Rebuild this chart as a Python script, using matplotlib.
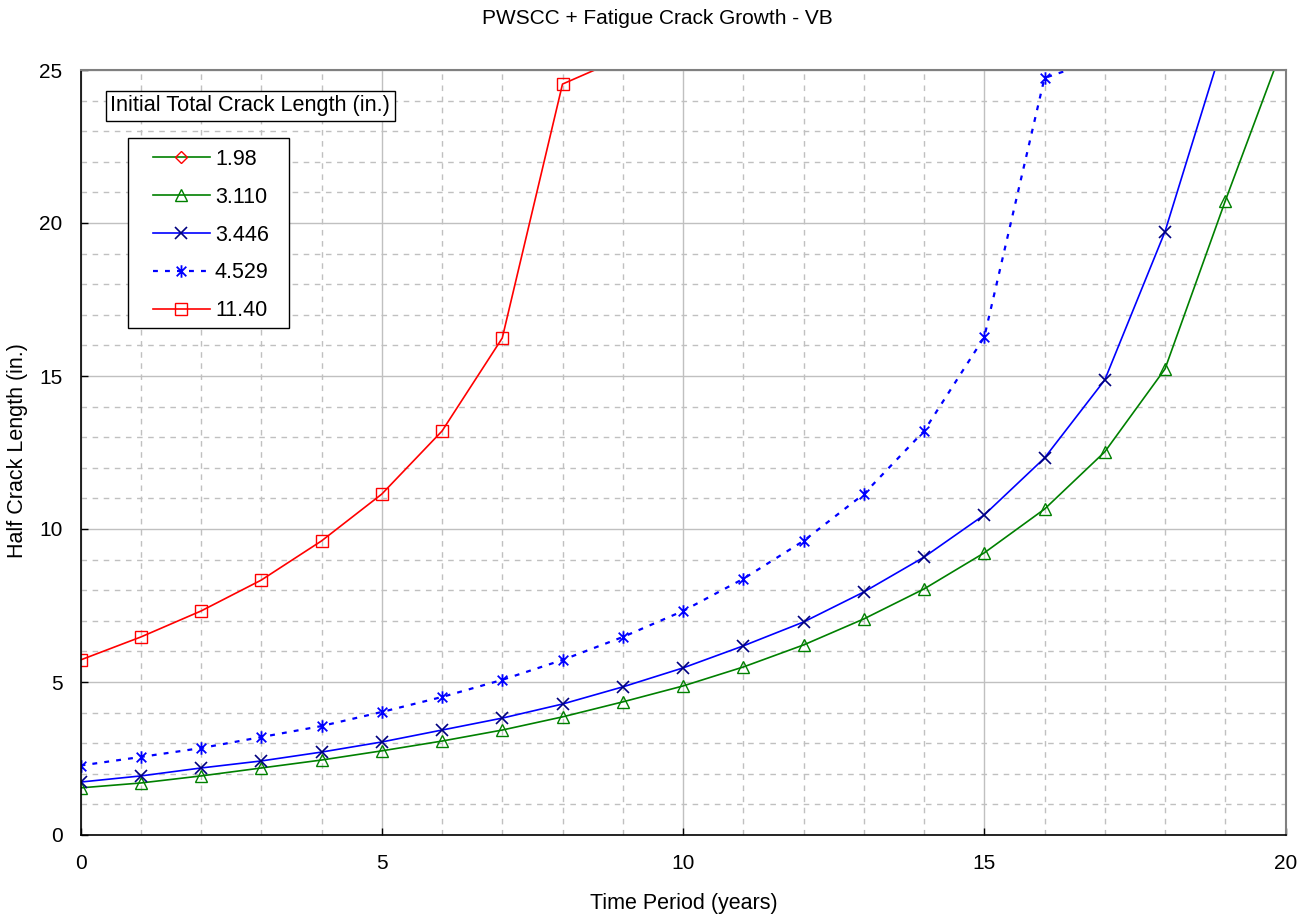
import numpy as np
import matplotlib.pyplot as plt
from matplotlib.path import Path
from matplotlib.patches import Rectangle

plt.rcParams['font.family'] = ['Liberation Sans', 'DejaVu Sans']

# time in years
years_red = [0, 1, 2, 3, 4, 5, 6, 7, 8, 9]
crack_1140 = [5.72, 6.47, 7.32, 8.33, 9.61, 11.14, 13.20, 16.24, 24.54, 25.40]

years_dot = [0, 1, 2, 3, 4, 5, 6, 7, 8, 9, 10, 11, 12, 13, 14, 15, 16, 17]
crack_4529 = [2.27, 2.55, 2.84, 3.20, 3.56, 4.02, 4.51, 5.07, 5.72, 6.47,
              7.32, 8.37, 9.61, 11.14, 13.20, 16.27, 24.74, 25.40]

years_blue = [0, 1, 2, 3, 4, 5, 6, 7, 8, 9, 10, 11, 12, 13, 14, 15, 16, 17, 18, 19]
crack_3446 = [1.73, 1.93, 2.19, 2.42, 2.71, 3.04, 3.43, 3.82, 4.28, 4.84,
              5.46, 6.18, 6.96, 7.94, 9.08, 10.46, 12.32, 14.87, 19.72, 26.10]

years_green = [0, 1, 2, 3, 4, 5, 6, 7, 8, 9, 10, 11, 12, 13, 14, 15, 16, 17, 18, 19, 20]
crack_3110 = [1.54, 1.70, 1.93, 2.19, 2.45, 2.75, 3.07, 3.43, 3.86, 4.35,
              4.87, 5.49, 6.21, 7.06, 8.04, 9.22, 10.65, 12.52, 15.23, 20.72, 26.00]

# 1.98 in. case has no points on the chart
years_198 = []
crack_198 = []

# excel style asterisk: x plus a vertical bar
star = Path([(-1, -1), (1, 1), (-1, 1), (1, -1), (0, -1.3), (0, 1.3)],
            [Path.MOVETO, Path.LINETO] * 3)

W, H = 1314, 919
fig = plt.figure(figsize=(W / 100, H / 100), dpi=100)
ax = fig.add_axes([80.5 / W, 1 - 835 / H, 1205 / W, 765 / H])

ms = 9
ax.plot(years_198, crack_198, color='#008000', lw=1.2, marker='D', ms=6.5,
        mfc='none', mec='#FF0000', mew=1, label='1.98')
ax.plot(years_green, crack_3110, color='#008000', lw=1.2, marker='^', ms=ms,
        mfc='none', mec='#008000', mew=1, label='3.110')
ax.plot(years_blue, crack_3446, color='#0000FF', lw=1.2, marker='x', ms=ms,
        mec='#000080', mew=1.2, label='3.446')
ax.plot(years_dot, crack_4529, color='#0000FF', lw=1.6, ls=(0, (2.2, 3.2)),
        marker=star, ms=ms, mec='#0000FF', mew=1.3, label='4.529')
ax.plot(years_red, crack_1140, color='#FF0000', lw=1.2, marker='s', ms=ms,
        mfc='none', mec='#FF0000', mew=1, label='11.40')

ax.set_xlim(0, 20)
ax.set_ylim(0, 25)
ax.set_xticks(np.arange(0, 21, 5))
ax.set_yticks(np.arange(0, 26, 5))
ax.set_xticks(np.arange(0, 21, 1), minor=True)
ax.set_yticks(np.arange(0, 26, 1), minor=True)
ax.grid(which='major', color='#C0C0C0', lw=1, ls='-')
ax.grid(which='minor', color='#C0C0C0', lw=1, ls=(0, (4, 4)))
ax.set_axisbelow(True)
ax.tick_params(which='major', direction='in', length=5, width=1, color='black',
               labelsize=15)
ax.tick_params(axis='y', which='major', pad=13)
ax.tick_params(axis='x', which='major', pad=14)
ax.tick_params(which='minor', length=0)

for s in ['left', 'bottom']:
    ax.spines[s].set_color('black')
    ax.spines[s].set_linewidth(1.2)
for s in ['top', 'right']:
    ax.spines[s].set_color('#808080')
    ax.spines[s].set_linewidth(1.5)

fig.text(0.5, 1 - 18 / H, 'PWSCC + Fatigue Crack Growth - VB', ha='center',
         va='center', fontsize=15)
fig.text(684 / W, 1 - 903 / H, 'Time Period (years)', ha='center', va='center',
         fontsize=15.5)
fig.text(18 / W, 1 - 451 / H, 'Half Crack Length (in.)', ha='center',
         va='center', rotation=90, fontsize=15.5)

fig.text(110.5 / W, 1 - 106 / H, 'Initial Total Crack Length (in.)',
         ha='left', va='center', fontsize=15.6,
         bbox=dict(boxstyle='square,pad=0.22', fc='white', ec='black', lw=1))

# legend frame drawn separately so the padding matches
ax.add_patch(Rectangle((127.7 / W, 1 - 328 / H), 161.3 / W, 190 / H,
                       transform=fig.transFigure, fc='white', ec='black',
                       lw=1, zorder=4, clip_on=False))
leg = ax.legend(loc='upper left', bbox_to_anchor=(152.7 / W, 1 - 149 / H),
                bbox_transform=fig.transFigure, borderaxespad=0, borderpad=0,
                fontsize=15.5, handlelength=2.64, handletextpad=0.25,
                labelspacing=0.78, frameon=False)
leg.set_zorder(5)

plt.savefig('out.png', dpi=100)
